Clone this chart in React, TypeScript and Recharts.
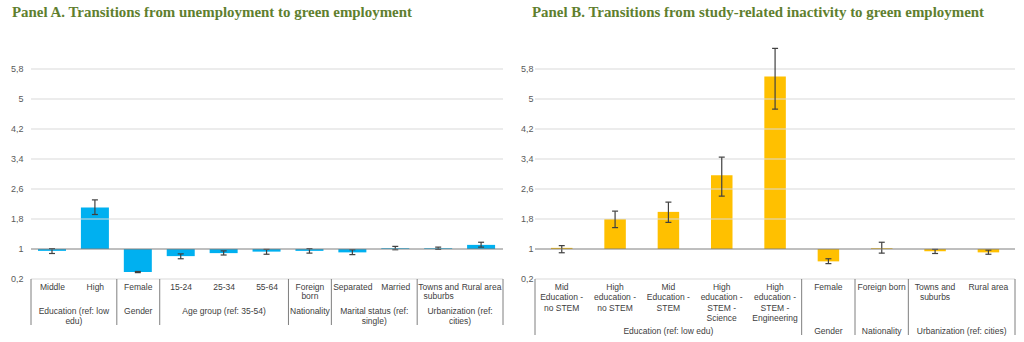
import React from 'react';
import { BarChart, Bar, XAxis, YAxis, ReferenceLine, ErrorBar } from 'recharts';

const yTicks = [0.2, 1, 1.8, 2.6, 3.4, 4.2, 5, 5.8];

const categoriesA = ['Middle', 'High', 'Female', '15-24', '25-34', '55-64', 'Foreign\nborn', 'Separated', 'Married', 'Towns and\nsuburbs', 'Rural area'];
const valuesA = [0.95, 2.11, 0.39, 0.81, 0.89, 0.93, 0.95, 0.91, 1.02, 1.02, 1.11];
const lowA = [0.88, 1.92, 0.37, 0.74, 0.84, 0.86, 0.89, 0.85, 0.98, 0.99, 1.05];
const highA = [1.01, 2.31, 0.40, 0.87, 0.95, 0.99, 1.01, 0.98, 1.07, 1.05, 1.18];
const groupLabelsA = ['Education (ref: low\nedu)', 'Gender', 'Age group (ref: 35-54)', 'Nationality', 'Marital status (ref:\nsingle)', 'Urbanization (ref:\ncities)'];
const groupSizesA = [2, 1, 3, 1, 2, 2];

const categoriesB = ['Mid\nEducation -\nno STEM', 'High\neducation -\nno STEM', 'Mid\nEducation -\nSTEM', 'High\neducation -\nSTEM -\nScience', 'High\neducation -\nSTEM -\nEngineering', 'Female', 'Foreign born', 'Towns and\nsuburbs', 'Rural area'];
const valuesB = [1.03, 1.80, 1.99, 2.97, 5.60, 0.67, 1.02, 0.94, 0.91];
const lowB = [0.90, 1.57, 1.71, 2.41, 4.73, 0.61, 0.89, 0.88, 0.86];
const highB = [1.09, 2.01, 2.25, 3.45, 6.35, 0.74, 1.18, 0.99, 0.97];
const groupLabelsB = ['Education (ref: low edu)', 'Gender', 'Nationality', 'Urbanization (ref: cities)'];
const groupSizesB = [5, 1, 1, 2];

const titleA = 'Panel A. Transitions from unemployment to green employment';
const titleB = 'Panel B. Transitions from study-related inactivity to green employment';

const SANS = '"Liberation Sans", Arial, sans-serif';
const W = 512;
const H = 342;
const TOP = 39;
const BOTTOM = 279;
const RIGHT = 9;

type PanelProps = {
  cats: string[];
  vals: number[];
  lo: number[];
  hi: number[];
  groups: string[];
  sizes: number[];
  color: string;
  barSize: number;
  yAxisWidth: number;
  tickMargin: number;
  rowLine: number;
  groupY: number;
  groupLine: number;
  sepBottom: number;
};

function Panel(p: PanelProps) {
  const plotW = W - p.yAxisWidth - RIGHT;
  const bw = plotW / p.cats.length;
  const data = p.cats.map((c, i) => ({
    name: c,
    range: [1, p.vals[i]],
    err: [p.vals[i] - p.lo[i], p.hi[i] - p.vals[i]],
  }));
  const starts: number[] = [];
  let acc = 0;
  p.sizes.forEach((n) => {
    starts.push(acc);
    acc += n;
  });

  const renderTick = (props: any) => {
    const { x, payload } = props;
    let i = props.index;
    if (typeof i !== 'number') i = p.cats.indexOf(payload.value);
    const lines = p.cats[i].split('\n');
    const g = starts.indexOf(i);
    const last = i === p.cats.length - 1;
    const gx = g >= 0 ? x + ((p.sizes[g] - 1) * bw) / 2 : 0;
    return (
      <g>
        <text x={x} y={BOTTOM + 8} textAnchor="middle" dominantBaseline="central" fontSize={8.5} fill="#404040" fontFamily={SANS}>
          {lines.map((l, k) => (
            <tspan key={k} x={x} dy={k === 0 ? 0 : p.rowLine}>{l}</tspan>
          ))}
        </text>
        {g >= 0 && (
          <line x1={x - bw / 2} x2={x - bw / 2} y1={BOTTOM} y2={p.sepBottom} stroke="#7f7f7f" strokeWidth={1} />
        )}
        {last && (
          <line x1={x + bw / 2} x2={x + bw / 2} y1={BOTTOM} y2={p.sepBottom} stroke="#7f7f7f" strokeWidth={1} />
        )}
        {g >= 0 && (
          <text x={gx} y={p.groupY} textAnchor="middle" dominantBaseline="central" fontSize={8.5} fill="#404040" fontFamily={SANS}>
            {p.groups[g].split('\n').map((l, k) => (
              <tspan key={k} x={gx} dy={k === 0 ? 0 : p.groupLine}>{l}</tspan>
            ))}
          </text>
        )}
      </g>
    );
  };

  return (
    <BarChart width={W} height={H} data={data} margin={{ top: TOP, right: RIGHT, left: 0, bottom: 0 }}>
      <XAxis dataKey="name" axisLine={false} tickLine={false} interval={0} height={H - BOTTOM} tick={renderTick} />
      <YAxis
        type="number"
        domain={[0.2, 6.6]}
        ticks={yTicks}
        allowDataOverflow
        width={p.yAxisWidth}
        axisLine={false}
        tickLine={false}
        tickSize={0}
        tickMargin={p.tickMargin}
        tickFormatter={(v: number) => String(v).replace('.', ',')}
        tick={{ fontSize: 9, fill: '#595959', fontFamily: SANS }}
      />
      {yTicks.filter((t) => t !== 1).map((t) => (
        <ReferenceLine key={t} y={t} stroke="#d9d9d9" strokeWidth={1} />
      ))}
      <Bar dataKey="range" fill={p.color} barSize={p.barSize} isAnimationActive={false}>
        <ErrorBar dataKey="err" width={3} stroke="#404040" strokeWidth={1.2} direction="y" />
      </Bar>
      <ReferenceLine y={1} stroke="#7f7f7f" strokeWidth={1} />
    </BarChart>
  );
}

export default function App() {
  return (
    <div style={{ position: 'absolute', left: 0, top: 0, width: 1024, height: 342, background: '#ffffff', overflow: 'hidden' }}>
      <div style={{ position: 'absolute', left: 0, top: 0 }}>
        <Panel
          cats={categoriesA}
          vals={valuesA}
          lo={lowA}
          hi={highA}
          groups={groupLabelsA}
          sizes={groupSizesA}
          color="#00B0F0"
          barSize={28}
          yAxisWidth={31}
          tickMargin={7.5}
          rowLine={8.5}
          groupY={310.7}
          groupLine={10}
          sepBottom={325}
        />
      </div>
      <div style={{ position: 'absolute', left: 512, top: 0 }}>
        <Panel
          cats={categoriesB}
          vals={valuesB}
          lo={lowB}
          hi={highB}
          groups={groupLabelsB}
          sizes={groupSizesB}
          color="#FFC000"
          barSize={21.5}
          yAxisWidth={23}
          tickMargin={1.5}
          rowLine={10.3}
          groupY={331}
          groupLine={10}
          sepBottom={335}
        />
      </div>
      <svg width={1024} height={342} style={{ position: 'absolute', left: 0, top: 0, pointerEvents: 'none' }}>
        <text x={12} y={16.5} fontFamily='"Liberation Serif", "DejaVu Serif", serif' fontWeight="bold" fontSize={14} fill="#5f7f2f" textLength={400} lengthAdjust="spacingAndGlyphs">
          {titleA}
        </text>
        <text x={532} y={16.5} fontFamily='"Liberation Serif", "DejaVu Serif", serif' fontWeight="bold" fontSize={14} fill="#5f7f2f" textLength={452} lengthAdjust="spacingAndGlyphs">
          {titleB}
        </text>
      </svg>
    </div>
  );
}
